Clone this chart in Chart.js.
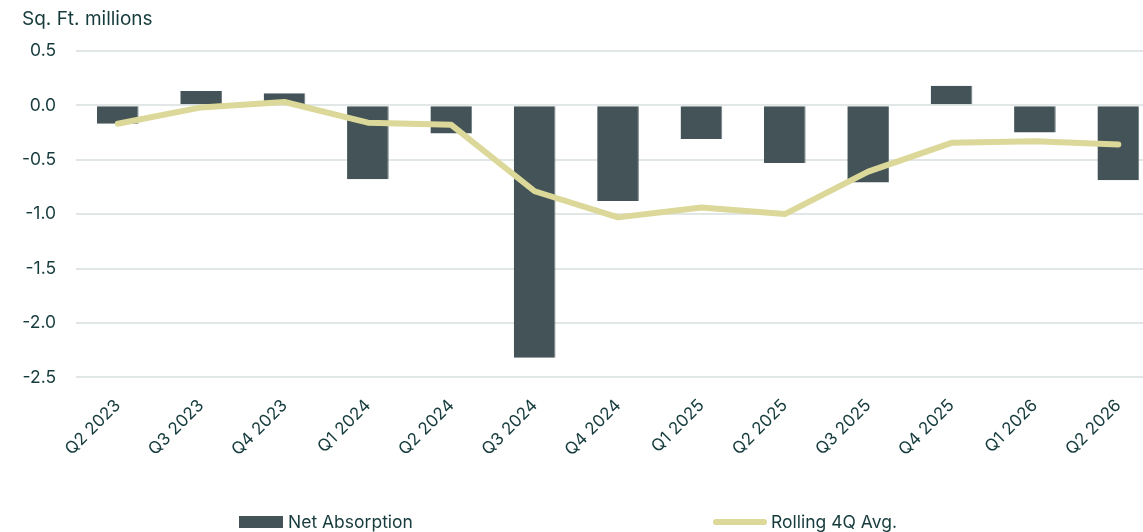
<!DOCTYPE html>
<html>
<head>
<meta charset="utf-8">
<script src="https://cdn.jsdelivr.net/npm/chart.js@4.4.1/dist/chart.umd.min.js"></script>
<style>
  html, body { margin: 0; padding: 0; background: #fff; overflow: hidden; }
  #wrap { position: relative; width: 1143px; height: 532px; overflow: hidden; }
  #chart { position: absolute; left: 0; top: 0; }
  .legend { position: absolute; top: 511px; font-family: "Inter", sans-serif; font-size: 17.5px; color: #163b3c; display: flex; align-items: center; }
  .legend .swatch { display: inline-block; margin-right: 5px; }
</style>
</head>
<body>
<div id="wrap">
  <canvas id="chart" width="1160" height="532"></canvas>
  <div class="legend" id="legendBar" style="left:239px"></div>
  <div class="legend" id="legendLine" style="left:713px"></div>
</div>
<script>
// quarterly net absorption, sq. ft. millions
const categories = [
  "Q2 2023", "Q3 2023", "Q4 2023", "Q1 2024", "Q2 2024", "Q3 2024", "Q4 2024",
  "Q1 2025", "Q2 2025", "Q3 2025", "Q4 2025", "Q1 2026", "Q2 2026",
];
const netAbsorption = [-0.17, 0.13, 0.11, -0.68, -0.26, -2.32, -0.88, -0.31, -0.53, -0.71, 0.18, -0.25, -0.69];
const rollingAvg = [-0.17, -0.02, 0.03, -0.16, -0.18, -0.79, -1.03, -0.94, -1.0, -0.61, -0.345, -0.33, -0.36];
const yTicks = [0.5, 0.0, -0.5, -1.0, -1.5, -2.0, -2.5];

const barColor = "#445357";
const lineColor = "#dbd899";
const textColor = "#163b3c";
const fontFamily = "Inter, sans-serif";

let ctx = document.getElementById("chart").getContext("2d");
let myChart = new Chart(ctx, {
  type: "bar",
  data: {
    labels: categories,
    datasets: [
      {
        type: "line",
        label: "Rolling 4Q Avg.",
        data: rollingAvg,
        borderColor: lineColor,
        backgroundColor: lineColor,
        borderWidth: 6,
        pointRadius: 0,
        borderCapStyle: "round",
        borderJoinStyle: "round",
        tension: 0,
        order: 0,
      },
      {
        label: "Net Absorption",
        data: netAbsorption,
        backgroundColor: barColor,
        borderColor: "#6f7d80",
        borderWidth: { right: 1 },
        borderSkipped: false,
        categoryPercentage: 1,
        barPercentage: 0.5,
        order: 1,
      },
    ],
  },
  options: {
    responsive: false,
    animation: false,
    layout: { padding: { left: 22, right: 0, top: 0, bottom: 54 } },
    plugins: {
      legend: { display: false },
      tooltip: { enabled: false },
      title: {
        display: true,
        text: "Sq. Ft. millions",
        align: "start",
        padding: { top: 8, bottom: 20 },
        color: textColor,
        font: { family: fontFamily, size: 19, weight: "normal" },
      },
    },
    scales: {
      x: {
        offset: true,
        grid: { display: false, drawTicks: false },
        border: { display: false },
        ticks: {
          color: textColor,
          font: { family: fontFamily, size: 17 },
          minRotation: 45,
          maxRotation: 45,
          autoSkip: false,
          padding: 18,
        },
        // rotated first label may hang past the y axis; don't let it push the plot
        afterFit: (axis) => {
          axis.paddingLeft = 0;
          axis.paddingRight = 0;
        },
      },
      y: {
        min: -2.5,
        max: 0.5,
        afterBuildTicks: (axis) => {
          axis.ticks = yTicks.map((v) => ({ value: v }));
        },
        // tick padding is counted on both sides of the labels; keep only the inner gap
        afterFit: (axis) => {
          axis.width -= 20;
        },
        grid: { color: "#e1e6e6", lineWidth: 2, drawTicks: false },
        border: { display: false },
        ticks: {
          color: textColor,
          font: { family: fontFamily, size: 17.5 },
          padding: 20,
          callback: (v) => Number(v).toFixed(1),
        },
      },
    },
  },
});

// legend built from the two datasets
function legendItem(el, dataset, swatchStyle) {
  let sw = document.createElement("span");
  sw.className = "swatch";
  Object.assign(sw.style, swatchStyle);
  el.appendChild(sw);
  el.appendChild(document.createTextNode(dataset.label));
}
legendItem(document.getElementById("legendBar"), myChart.data.datasets[1], {
  width: "44px", height: "12px", background: barColor,
});
legendItem(document.getElementById("legendLine"), myChart.data.datasets[0], {
  width: "54px", height: "6px", background: lineColor, borderRadius: "3px", marginRight: "4px",
});
</script>
</body>
</html>
